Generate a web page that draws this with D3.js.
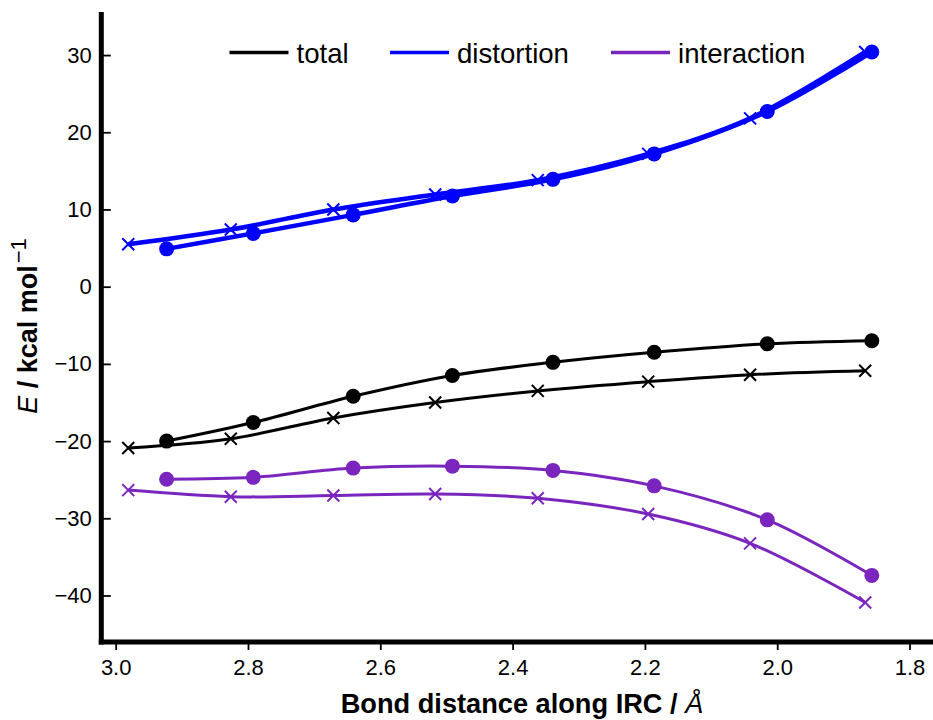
<!DOCTYPE html>
<html>
<head>
<meta charset="utf-8">
<script src="https://cdn.jsdelivr.net/npm/d3@7"></script>
<style>
  html, body { margin: 0; padding: 0; background: #fff; }
  svg { display: block; font-family: "Liberation Sans", Arial, Helvetica, sans-serif; }
</style>
</head>
<body>
<svg id="chart" width="933" height="720"></svg>
<script>
// ---- data ----
const seriesNames = ["total", "distortion", "interaction"];
const seriesColors = ["#000000", "#0000ff", "#7a26be"];

// circle-marker set
const xCircle = [2.923, 2.792, 2.641, 2.491, 2.339, 2.186, 2.015, 1.857];
const totalCircle = [-20.0, -17.6, -14.2, -11.5, -9.8, -8.5, -7.4, -7.0];
const distortionCircle = [4.9, 6.9, 9.3, 11.75, 13.9, 17.2, 22.7, 30.4];
const interactionCircle = [-24.95, -24.7, -23.5, -23.25, -23.8, -25.8, -30.2, -37.4];

// cross-marker set
const xCross = [2.981, 2.826, 2.671, 2.517, 2.362, 2.195, 2.041, 1.867];
const totalCross = [-20.9, -19.7, -17.0, -15.0, -13.5, -12.3, -11.4, -10.9];
const distortionCross = [5.5, 7.4, 10.0, 11.95, 13.8, 17.2, 21.8, 30.4];
const interactionCross = [-26.35, -27.2, -27.05, -26.85, -27.4, -29.45, -33.25, -40.9];

const xTicks = [3.0, 2.8, 2.6, 2.4, 2.2, 2.0, 1.8];
const yTicks = [30, 20, 10, 0, -10, -20, -30, -40];

// ---- scales ----
const svg = d3.select("#chart");
const x = d3.scaleLinear().domain([3.0225, 1.7645]).range([100.8, 933]);
const y = d3.scaleLinear().domain([-45.96, 35.32]).range([641.5, 14]);

// ---- axes ----
const xAxis = d3.axisBottom(x).tickValues(xTicks).tickFormat(d3.format(".1f"))
  .tickSize(8.5).tickSizeOuter(0).tickPadding(9.5);
const gx = svg.append("g").attr("transform", `translate(0,${y.range()[0]})`).call(xAxis);
gx.select(".domain").attr("stroke", "#000").attr("stroke-width", 5).attr("stroke-linecap", "square");
gx.selectAll(".tick line").attr("stroke", "#000").attr("stroke-width", 1.8);
gx.selectAll(".tick text").attr("font-size", 22).attr("fill", "#000")
  .attr("font-family", "'Liberation Sans', Arial, sans-serif");

const yAxis = d3.axisLeft(y).tickValues(yTicks).tickFormat(d => d < 0 ? "\u2212" + Math.abs(d) : d)
  .tickSize(-10).tickSizeOuter(0).tickPadding(9);
const gy = svg.append("g").attr("transform", `translate(${x.range()[0]},0)`).call(yAxis);
gy.select(".domain").attr("stroke", "#000").attr("stroke-width", 5).attr("stroke-linecap", "square");
gy.selectAll(".tick line").attr("stroke", "#000").attr("stroke-width", 1.8);
gy.selectAll(".tick text").attr("font-size", 22).attr("fill", "#000")
  .attr("font-family", "'Liberation Sans', Arial, sans-serif");

// ---- series ----
const circleSeries = [totalCircle, distortionCircle, interactionCircle];
const crossSeries = [totalCross, distortionCross, interactionCross];
const lineWidths = [3, 4.5, 3];

const line = d3.line().x(d => x(d[0])).y(d => y(d[1])).curve(d3.curveCatmullRom.alpha(0.5));
const plot = svg.append("g");

seriesNames.forEach((name, i) => {
  const color = seriesColors[i];
  const cross = xCross.map((v, j) => [v, crossSeries[i][j]]);
  const circ = xCircle.map((v, j) => [v, circleSeries[i][j]]);

  plot.append("path").datum(cross).attr("d", line)
    .attr("fill", "none").attr("stroke", color).attr("stroke-width", lineWidths[i]);
  plot.append("path").datum(circ).attr("d", line)
    .attr("fill", "none").attr("stroke", color).attr("stroke-width", lineWidths[i]);

  const s = 6;
  plot.append("g").selectAll("path").data(cross).join("path")
    .attr("d", d => {
      const cx = x(d[0]), cy = y(d[1]);
      return `M${cx - s},${cy - s}L${cx + s},${cy + s}M${cx - s},${cy + s}L${cx + s},${cy - s}`;
    })
    .attr("stroke", color).attr("stroke-width", 2).attr("fill", "none");

  plot.append("g").selectAll("circle").data(circ).join("circle")
    .attr("cx", d => x(d[0])).attr("cy", d => y(d[1])).attr("r", 7.5)
    .attr("fill", color);
});

// ---- legend ----
const legendLineX = [229.5, 390, 611];
const legend = svg.append("g");
seriesNames.forEach((name, i) => {
  const lx = legendLineX[i];
  legend.append("line").attr("x1", lx).attr("x2", lx + 59).attr("y1", 52.5).attr("y2", 52.5)
    .attr("stroke", seriesColors[i]).attr("stroke-width", 3.5);
  legend.append("text").attr("x", lx + 67).attr("y", 63)
    .attr("font-size", 27.6).attr("fill", "#000").text(name);
});

// ---- axis titles ----
const xt = svg.append("text").attr("x", 522).attr("y", 713).attr("text-anchor", "middle")
  .attr("font-size", 27.2).attr("fill", "#000");
xt.append("tspan").attr("font-weight", "bold").text("Bond distance along IRC / ");
xt.append("tspan").attr("font-style", "italic").text("\u00C5");

const yt = svg.append("text").attr("transform", "translate(37,326) rotate(-90)")
  .attr("text-anchor", "middle").attr("font-size", 27).attr("fill", "#000");
yt.append("tspan").attr("font-style", "italic").text("E");
yt.append("tspan").attr("font-weight", "bold").text(" / kcal mol");
yt.append("tspan").attr("font-size", 22).attr("dy", -11).attr("dx", 2).text("\u22121");
</script>
</body>
</html>
